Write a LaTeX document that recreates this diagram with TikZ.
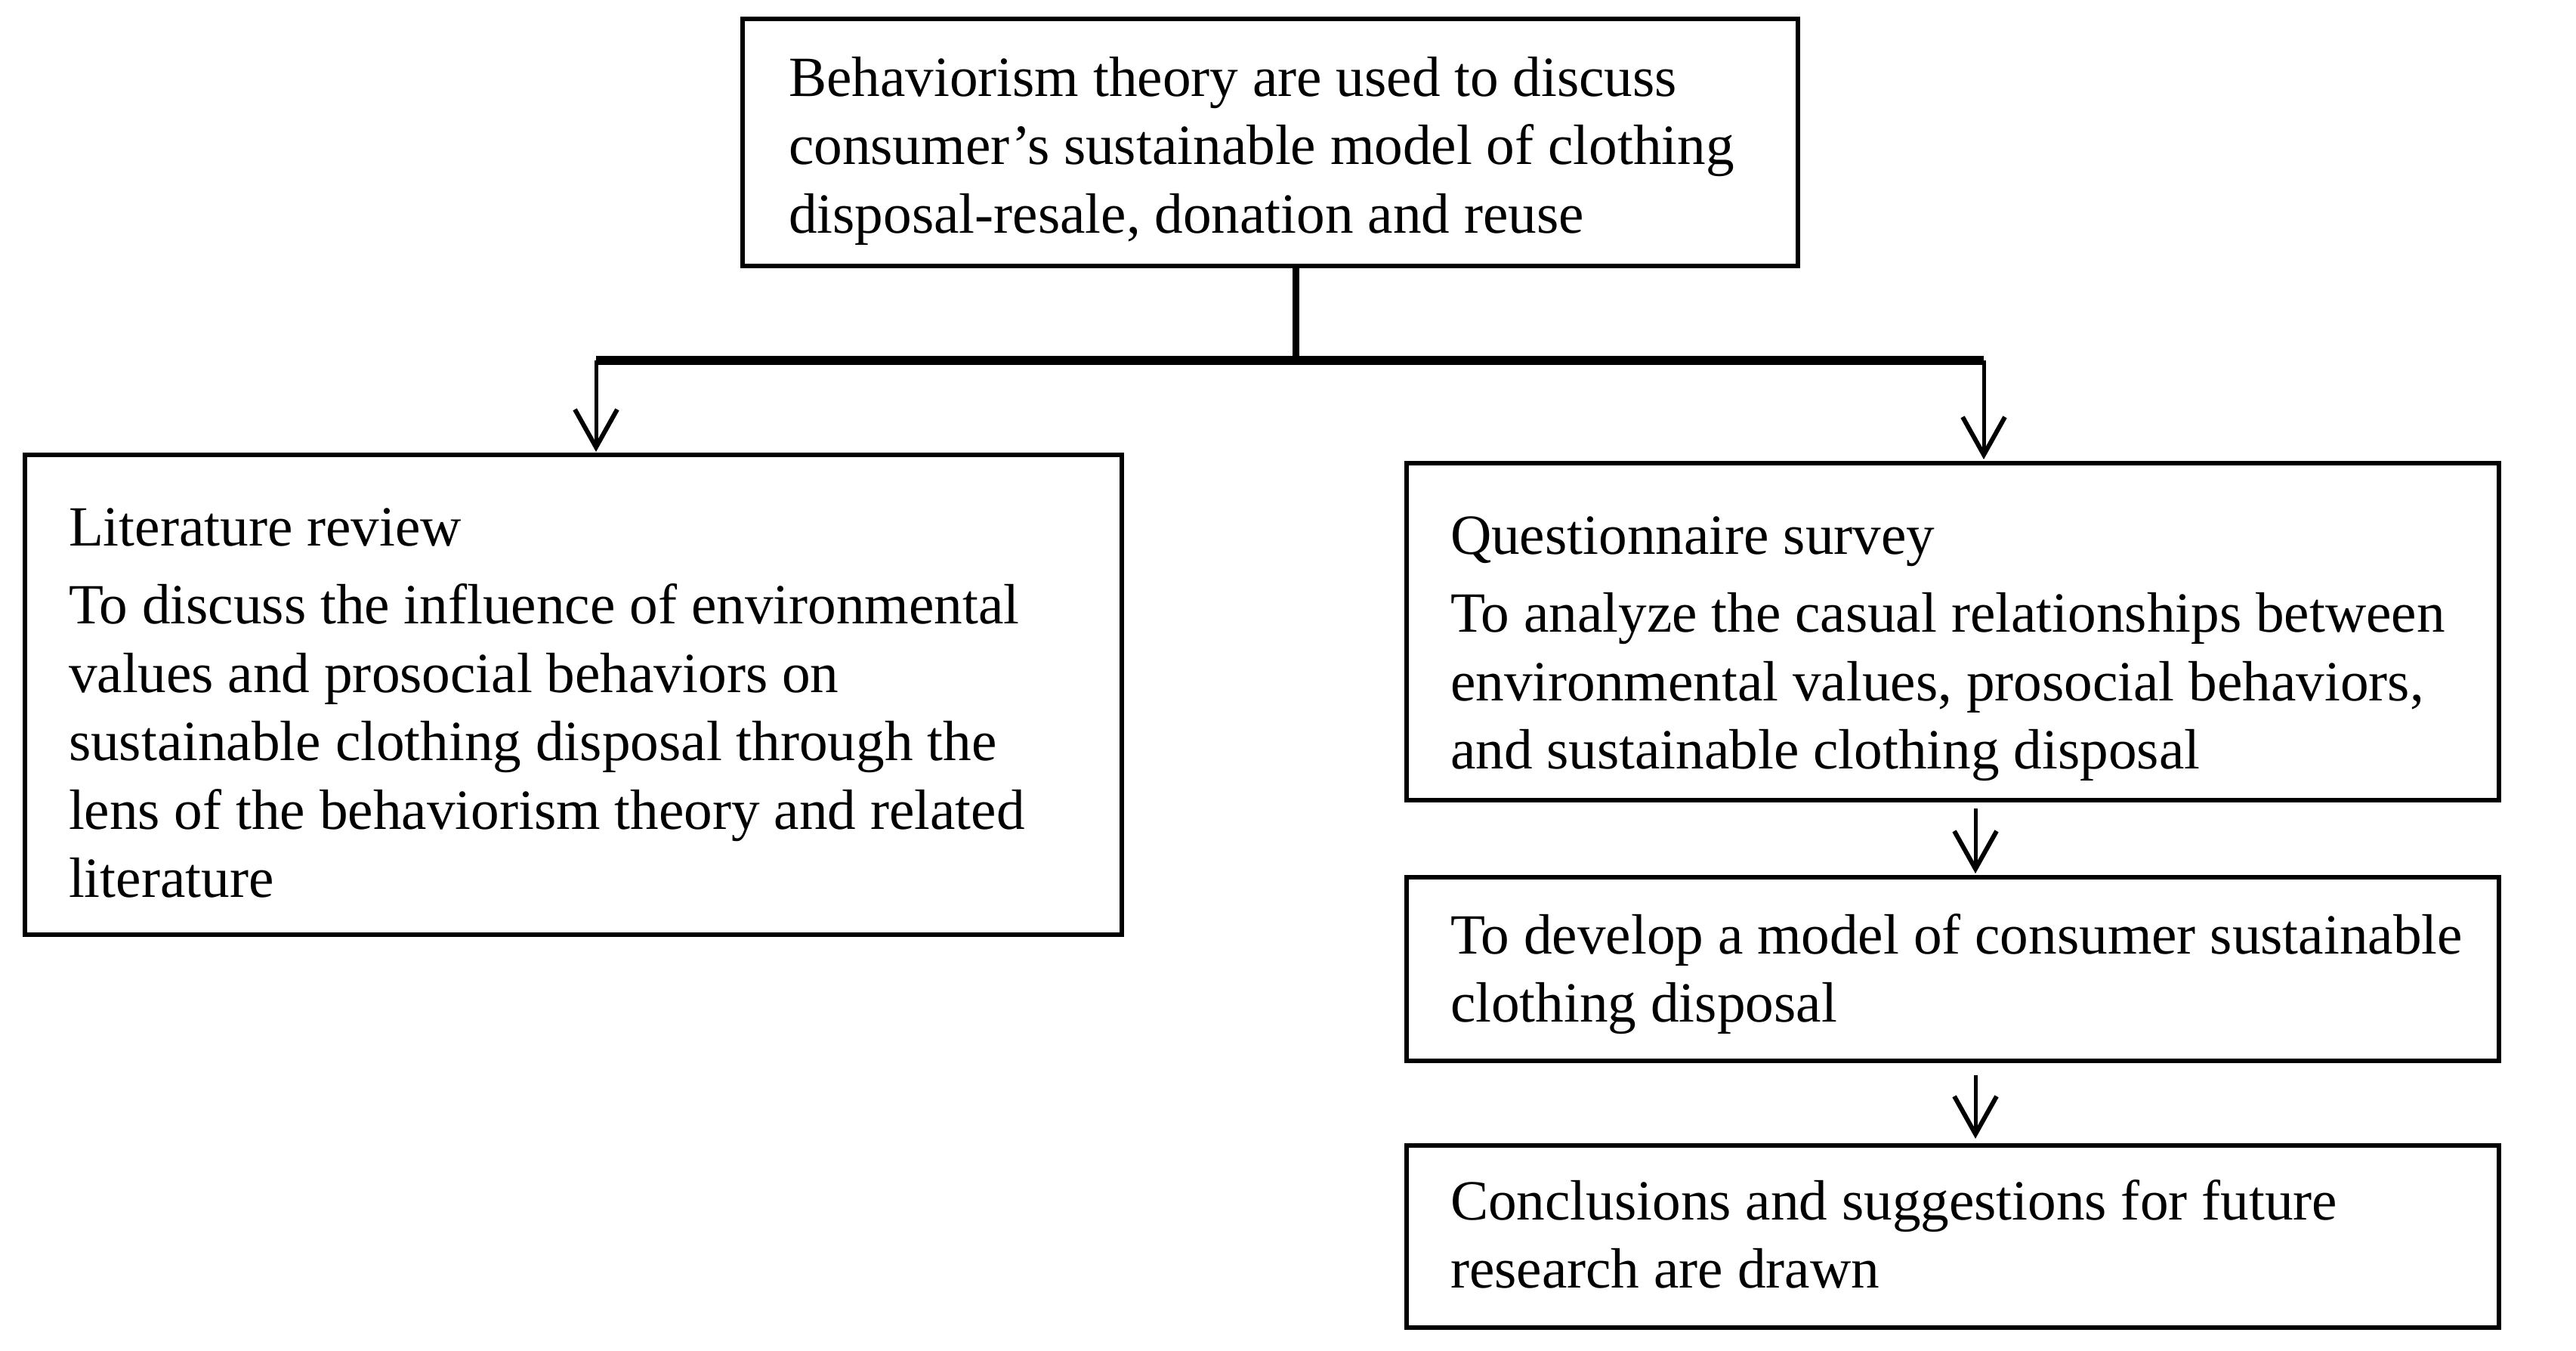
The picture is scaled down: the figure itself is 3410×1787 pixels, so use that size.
\documentclass[tikz,border=0pt]{standalone}
\usepackage{fontspec}
\setmainfont{Liberation Serif}
\usetikzlibrary{arrows.meta}
\newcommand{\boxlines}[1]{\parbox[t]{150mm}{\raggedright #1}}
\begin{document}
\begin{tikzpicture}[x=0.1mm,y=-0.1mm,
  box/.style={draw, line width=0.6mm, inner sep=0pt, outer sep=0pt, anchor=north west},
  txt/.style={anchor=base west, inner sep=0pt, outer sep=0pt,
    font=\fontsize{21.4pt}{25.75pt}\selectfont},
  stem/.style={line width=0.9mm},
  arr/.style={line width=0.5mm, -{Straight Barb[length=5mm, width=5.6mm, line width=0.6mm]}}]
\useasboundingbox (0,0) rectangle (3410,1787);
% boxes
\node[box, minimum width=139.7mm, minimum height=32.7mm] (top) at (983,25) {};
\node[box, minimum width=145.2mm, minimum height=63.5mm] (lit) at (33,602) {};
\node[box, minimum width=144.6mm, minimum height=44.6mm] (qs) at (1862,613) {};
\node[box, minimum width=144.6mm, minimum height=24.3mm] (dev) at (1862,1161) {};
\node[box, minimum width=144.6mm, minimum height=24.1mm] (con) at (1862,1516) {};
% texts
\node[txt] (toptxt) at (1044,127) {\boxlines{Behaviorism theory are used to discuss\\consumer’s sustainable model of clothing\\disposal-resale, donation and reuse}};
\node[txt] (littxt) at (91,722) {\boxlines{Literature review\\[3.7pt]To discuss the influence of environmental\\values and prosocial behaviors on\\sustainable clothing disposal through the\\lens of the behaviorism theory and related\\literature}};
\node[txt] (qstxt) at (1920,733) {\boxlines{Questionnaire survey\\[3.7pt]To analyze the casual relationships between\\environmental values, prosocial behaviors,\\and sustainable clothing disposal}};
\node[txt] (devtxt) at (1920,1262) {\boxlines{To develop a model of consumer sustainable\\clothing disposal}};
\node[txt] (contxt) at (1920,1614) {\boxlines{Conclusions and suggestions for future\\research are drawn}};
% connectors
\coordinate (mid) at (1715,477);
\coordinate (barL) at (789,477);
\coordinate (barR) at (2626,477);
\coordinate (ax) at (2615,0);
\draw[stem] (top.south -| mid) -- (mid);
\draw[line width=1.15mm] (barL) -- (barR);
\draw[arr, shorten >=0.4mm] (barL) -- (barL |- lit.north);
\draw[arr, shorten >=0.5mm] (barR) -- (barR |- qs.north);
\draw[arr, shorten <=1.1mm, shorten >=0.5mm] (qs.south -| ax) -- (dev.north -| ax);
\draw[arr, shorten <=1.9mm, shorten >=0.9mm] (dev.south -| ax) -- (con.north -| ax);
\end{tikzpicture}
\end{document}
